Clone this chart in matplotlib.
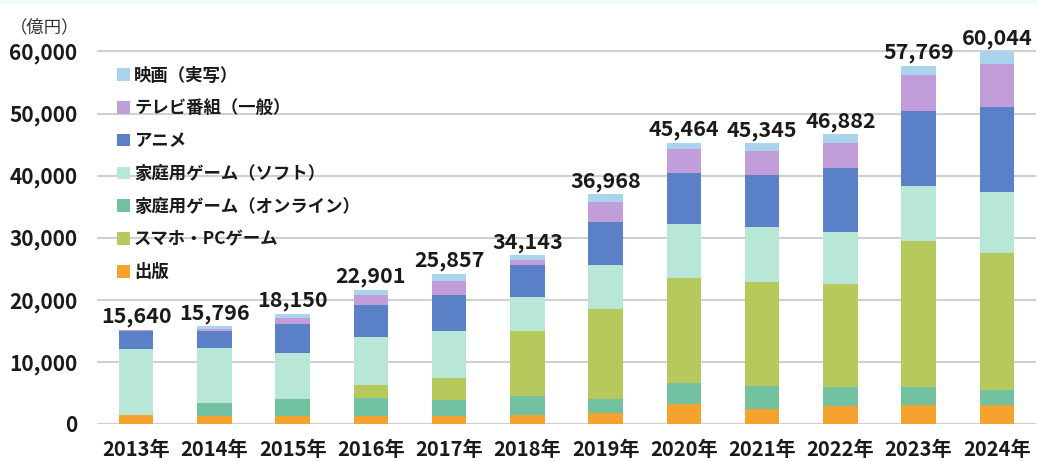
import matplotlib
matplotlib.use("Agg")
import matplotlib.pyplot as plt
from matplotlib.patches import Patch, Rectangle
import numpy as np

plt.rcParams['font.family'] = ['Noto Sans CJK JP', 'DejaVu Sans']

years = ["2013年", "2014年", "2015年", "2016年", "2017年", "2018年",
         "2019年", "2020年", "2021年", "2022年", "2023年", "2024年"]

# Market size by segment (億円), stacked bottom to top
publishing = [1400, 1340, 1340, 1340, 1340, 1450, 1720, 3220, 2460, 2900, 3060, 3060]
console_online = [0, 2090, 2690, 2850, 2520, 3110, 2350, 3330, 3660, 3110, 2950, 2410]
mobile_pc = [0, 0, 0, 2090, 3550, 10460, 14400, 16910, 16690, 16530, 23460, 22010]
console_soft = [10630, 8760, 7350, 7730, 7560, 5480, 7180, 8740, 8960, 8320, 8900, 9820]
anime = [2940, 2830, 4670, 5150, 5800, 5050, 6820, 8160, 8270, 10300, 12020, 13790]
tv_general = [100, 300, 970, 1610, 2250, 850, 3270, 3920, 3910, 4030, 5800, 6820]
film_live = [110, 410, 690, 850, 1130, 760, 1240, 1020, 1240, 1450, 1500, 2100]

totals = [15640, 15796, 18150, 22901, 25857, 34143,
          36968, 45464, 45345, 46882, 57769, 60044]

series = [
    ("出版", publishing, "#f5a22e"),
    ("家庭用ゲーム（オンライン）", console_online, "#72c2a2"),
    ("スマホ・PCゲーム", mobile_pc, "#b6c95c"),
    ("家庭用ゲーム（ソフト）", console_soft, "#b8e7d7"),
    ("アニメ", anime, "#5a80c7"),
    ("テレビ番組（一般）", tv_general, "#c19ed9"),
    ("映画（実写）", film_live, "#aad3ee"),
]
legend_order = ["映画（実写）", "テレビ番組（一般）", "アニメ", "家庭用ゲーム（ソフト）",
                "家庭用ゲーム（オンライン）", "スマホ・PCゲーム", "出版"]

fig = plt.figure(figsize=(10.38, 4.62), dpi=100)
fig.patch.set_facecolor("white")
fig.add_artist(Rectangle((0, 1 - 4 / 462), 1, 4 / 462, transform=fig.transFigure,
                         facecolor="#eefbf6", edgecolor="none"))

ax = fig.add_axes([0.0935, 0.0823, 0.9045, 0.887])
x = np.arange(len(years))
bottom = np.zeros(len(years))
colors = {}
for name, vals, col in series:
    vals = np.array(vals, dtype=float)
    ax.bar(x, vals, width=0.44, bottom=bottom, color=col, edgecolor="none", zorder=3)
    bottom += vals
    colors[name] = col

for xi, top, tot in zip(x, bottom, totals):
    ax.annotate(f"{tot:,}", (xi, top), xytext=(0, 2), textcoords="offset points",
                ha="center", va="bottom", fontsize=15.5, fontweight="bold",
                color="#1a1a1a", annotation_clip=False)

ax.set_xlim(-0.5, len(years) - 0.5)
ax.set_ylim(0, 66000)
ax.set_yticks(np.arange(0, 60001, 10000))
ax.set_yticklabels([f"{v:,}" for v in range(0, 60001, 10000)])
ax.set_xticks(x)
ax.set_xticklabels(years)
ax.tick_params(axis="y", length=0, pad=14, labelsize=15, labelcolor="#1a1a1a")
ax.tick_params(axis="x", length=0, pad=11, labelsize=14.5, labelcolor="#1a1a1a")
for lbl in ax.get_xticklabels() + ax.get_yticklabels():
    lbl.set_fontweight("bold")
ax.grid(axis="y", color="#d0d0d0", linewidth=1.5, zorder=0)
for s in ax.spines.values():
    s.set_visible(False)

fig.text(10 / 1038, 1 - 27 / 462, "（億円）", fontsize=12.5, color="#333333",
         ha="left", va="center")

handles = [Patch(facecolor=colors[n], edgecolor="none") for n in legend_order]
leg = fig.legend(handles, legend_order, loc="upper left",
                 bbox_to_anchor=(108 / 1038, 1 - 58 / 462), frameon=False,
                 fontsize=12.5, handlelength=0.75, handleheight=0.75,
                 handletextpad=0.25, labelspacing=0.85, borderpad=0)
for t in leg.get_texts():
    t.set_fontweight("bold")
    t.set_color("#1a1a1a")

fig.savefig("out.png", dpi=100)
